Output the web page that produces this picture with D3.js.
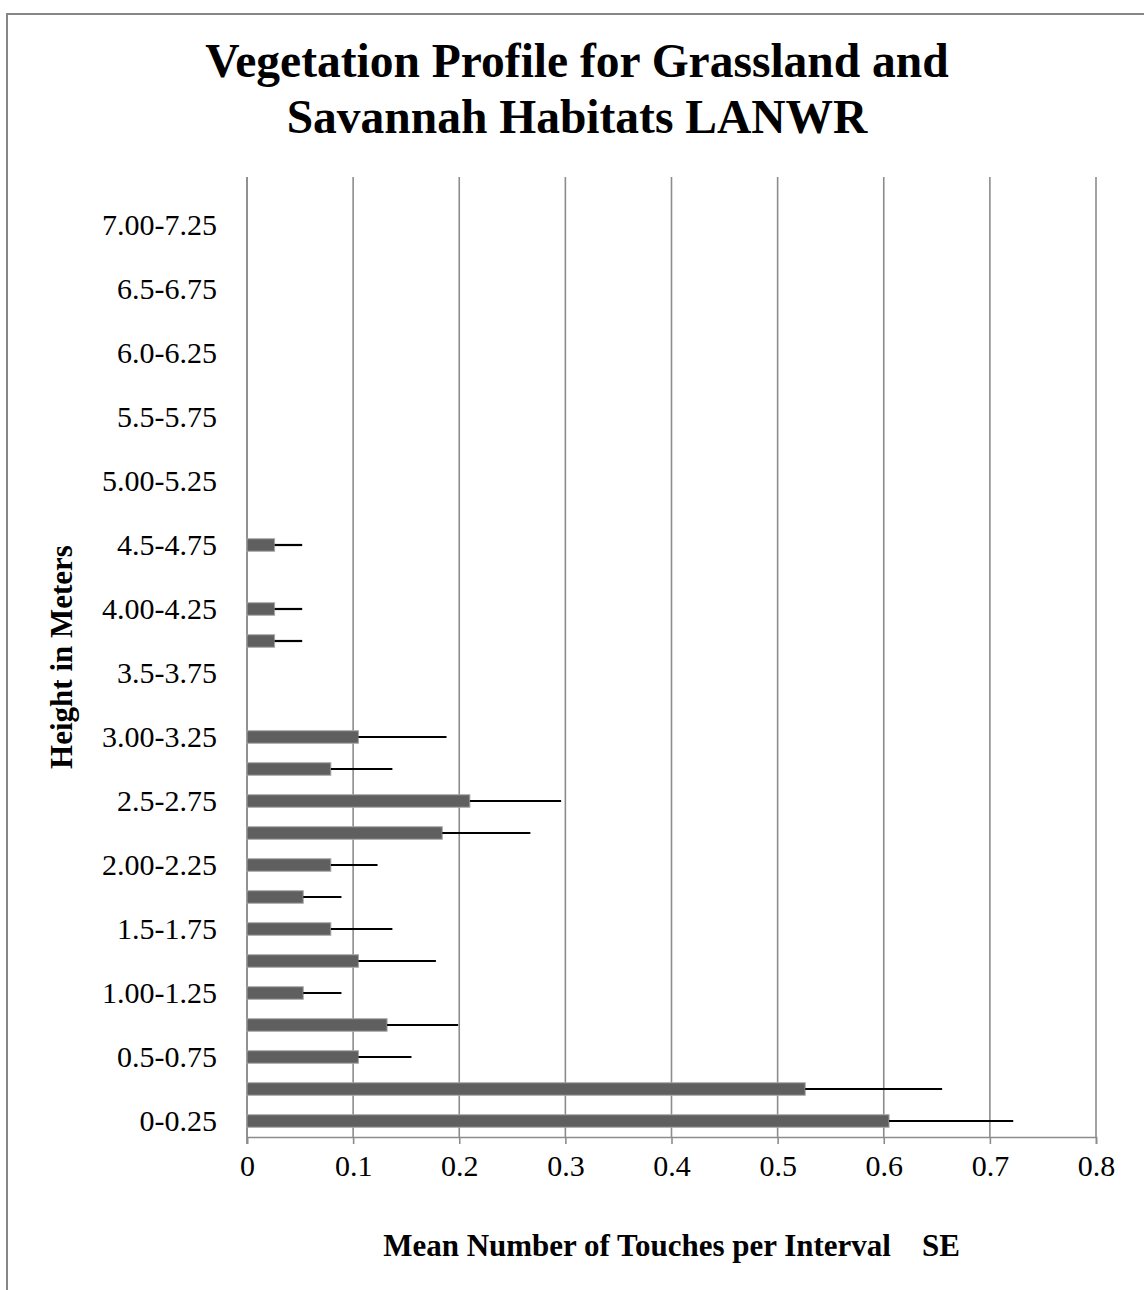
<!DOCTYPE html>
<html>
<head>
<meta charset="utf-8">
<script src="https://cdn.jsdelivr.net/npm/d3@7"></script>
<style>
  html, body { margin: 0; padding: 0; background: #fff; }
  svg { display: block; }
  text { font-family: "Liberation Serif", "Times New Roman", serif; fill: #000; }
</style>
</head>
<body>
<svg id="chart" width="1144" height="1290"></svg>
<script>
// Height intervals (m), bottom to top
const categories = [
  "0-0.25", "0.25-0.5", "0.5-0.75", "0.75-1.00", "1.00-1.25", "1.25-1.5",
  "1.5-1.75", "1.75-2.00", "2.00-2.25", "2.25-2.5", "2.5-2.75", "2.75-3.00",
  "3.00-3.25", "3.25-3.5", "3.5-3.75", "3.75-4.00", "4.00-4.25", "4.25-4.5",
  "4.5-4.75", "4.75-5.00", "5.00-5.25", "5.25-5.5", "5.5-5.75", "5.75-6.0",
  "6.0-6.25", "6.25-6.5", "6.5-6.75", "6.75-7.00", "7.00-7.25", "7.25-7.5"
];
// Mean number of touches per interval
const means = [
  0.605, 0.526, 0.105, 0.132, 0.053, 0.105,
  0.079, 0.053, 0.079, 0.184, 0.210, 0.079,
  0.105, 0, 0, 0.026, 0.026, 0,
  0.026, 0, 0, 0, 0, 0,
  0, 0, 0, 0, 0, 0
];
// Standard error of each mean
const se = [
  0.117, 0.129, 0.050, 0.067, 0.036, 0.073,
  0.058, 0.036, 0.044, 0.083, 0.086, 0.058,
  0.083, 0, 0, 0.026, 0.026, 0,
  0.026, 0, 0, 0, 0, 0,
  0, 0, 0, 0, 0, 0
];
const xTicks = [0, 0.1, 0.2, 0.3, 0.4, 0.5, 0.6, 0.7, 0.8];

const titleLines = ["Vegetation Profile for Grassland and", "Savannah Habitats LANWR"];
const xTitle = "Mean Number of Touches per Interval \u00A0\u00A0 SE";
const yTitle = "Height in Meters";

const rows = categories.map((c, i) => ({ cat: c, mean: means[i], se: se[i], idx: i }));

const svg = d3.select("#chart");
const plot = { left: 247, right: 1096, top: 177, bottom: 1137 };
const gridColor = "#8c8c8c";

// Outer chart frame
svg.append("rect")
  .attr("x", 7).attr("y", 14)
  .attr("width", 1200).attr("height", 1400)
  .attr("fill", "none").attr("stroke", "#878787").attr("stroke-width", 2);

const x = d3.scaleLinear().domain([0, 0.8]).range([plot.left, plot.right]);
const y = d3.scaleBand()
  .domain(categories.slice().reverse())
  .range([plot.top, plot.bottom])
  .paddingInner(0.61).paddingOuter(0.305);

// Vertical gridlines
svg.append("g").selectAll("line")
  .data(xTicks)
  .join("line")
  .attr("x1", d => x(d)).attr("x2", d => x(d))
  .attr("y1", plot.top).attr("y2", plot.bottom)
  .attr("stroke", gridColor).attr("stroke-width", 1.6);

// X axis
const xAxis = d3.axisBottom(x)
  .tickValues(xTicks)
  .tickFormat(d => d === 0 ? "0" : d3.format(".1f")(d))
  .tickSize(7)
  .tickPadding(11);
const gx = svg.append("g")
  .attr("transform", `translate(0,${plot.bottom})`)
  .call(xAxis);
gx.select(".domain").attr("stroke", gridColor).attr("stroke-width", 1.6);
gx.selectAll(".tick line").attr("stroke", gridColor).attr("stroke-width", 1.6);
gx.selectAll(".tick text")
  .attr("font-family", "Liberation Serif, serif")
  .attr("font-size", 30).attr("fill", "#000");

// Y axis (labels on every other interval)
const yAxis = d3.axisLeft(y)
  .tickValues(categories.filter((c, i) => i % 2 === 0))
  .tickSize(0)
  .tickPadding(30);
const gy = svg.append("g")
  .attr("transform", `translate(${plot.left},0)`)
  .call(yAxis);
gy.select(".domain").remove();
gy.selectAll(".tick text")
  .attr("font-family", "Liberation Serif, serif")
  .attr("font-size", 30).attr("fill", "#000");

// Left axis line
svg.append("line")
  .attr("x1", plot.left).attr("x2", plot.left)
  .attr("y1", plot.top).attr("y2", plot.bottom + 7)
  .attr("stroke", gridColor).attr("stroke-width", 1.6);

// Bars
svg.append("g").selectAll("rect")
  .data(rows.filter(d => d.mean > 0))
  .join("rect")
  .attr("x", x(0))
  .attr("y", d => y(d.cat))
  .attr("width", d => x(d.mean) - x(0))
  .attr("height", y.bandwidth())
  .attr("fill", "#5f5f5f")
  .attr("stroke", "#a6a6a6").attr("stroke-width", 1);

// Error bars (mean + SE)
svg.append("g").selectAll("line")
  .data(rows.filter(d => d.se > 0))
  .join("line")
  .attr("x1", d => x(d.mean))
  .attr("x2", d => x(d.mean + d.se))
  .attr("y1", d => y(d.cat) + y.bandwidth() / 2)
  .attr("y2", d => y(d.cat) + y.bandwidth() / 2)
  .attr("stroke", "#000").attr("stroke-width", 2.2);

// Title
svg.append("text")
  .attr("text-anchor", "middle")
  .attr("font-weight", "bold").attr("font-size", 47.5)
  .selectAll("tspan")
  .data(titleLines)
  .join("tspan")
  .attr("x", 577)
  .attr("y", (d, i) => 77 + i * 56)
  .text(d => d);

// X axis title
svg.append("text")
  .attr("x", (plot.left + plot.right) / 2)
  .attr("y", 1256)
  .attr("text-anchor", "middle")
  .attr("font-weight", "bold").attr("font-size", 31)
  .style("white-space", "pre")
  .text(xTitle);

// Y axis title
svg.append("text")
  .attr("transform", `translate(72,${(plot.top + plot.bottom) / 2}) rotate(-90)`)
  .attr("text-anchor", "middle")
  .attr("font-weight", "bold").attr("font-size", 31)
  .text(yTitle);
</script>
</body>
</html>
